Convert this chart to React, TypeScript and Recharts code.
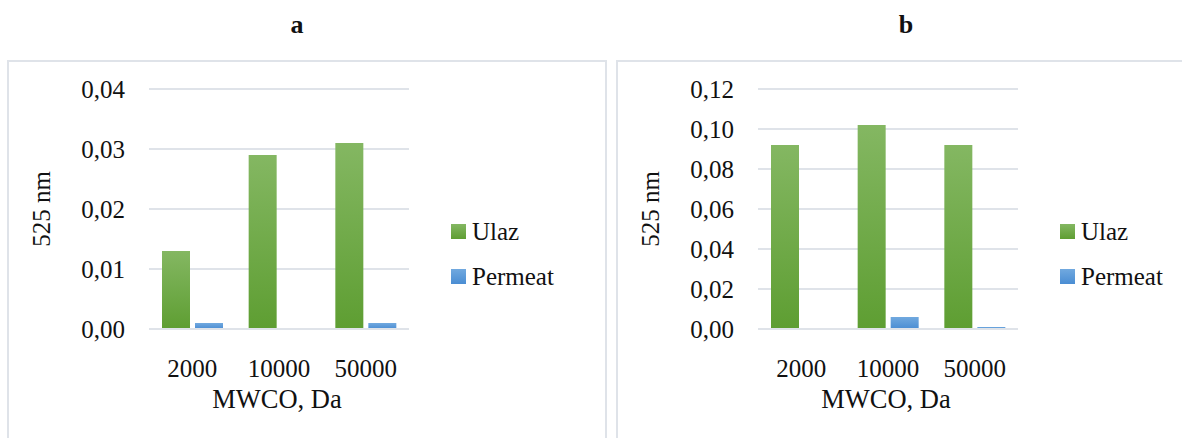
import { BarChart, Bar, XAxis, YAxis, CartesianGrid, Label } from 'recharts'

// MWCO kategorije i vrijednosti apsorbancije na 525 nm
const categories = ['2000', '10000', '50000']
const ulazA = [0.013, 0.029, 0.031]
const permeatA = [0.001, 0, 0.001]
const ulazB = [0.092, 0.102, 0.092]
const permeatB = [0, 0.006, 0.001]
const ticksA = [0, 0.01, 0.02, 0.03, 0.04]
const ticksB = [0, 0.02, 0.04, 0.06, 0.08, 0.1, 0.12]
const seriesNames = ['Ulaz', 'Permeat']

const FONT = "'Liberation Serif', 'Times New Roman', serif"
const GRID = '#dfe3e9'
const GREEN = ['#84b762', '#5e9e32']
const BLUE = ['#71a9df', '#4a8dd3']

const fmt = (v: number) => v.toFixed(2).replace('.', ',')

function LegendBox() {
  const grads = [GREEN, BLUE]
  return (
    <div
      style={{ position: 'absolute', left: 451, top: 209, fontFamily: FONT, fontSize: 25, color: '#111' }}
    >
      {seriesNames.map((name, i) => (
        <div key={name} style={{ display: 'flex', alignItems: 'center', height: 45 }}>
          <span
            style={{
              width: 15,
              height: 15,
              background: `linear-gradient(${grads[i][0]}, ${grads[i][1]})`,
              marginRight: 6,
            }}
          />
          <span>{name}</span>
        </div>
      ))}
    </div>
  )
}

function Panel({ title, ulaz, permeat, ticks, offset }: {
  title: string
  ulaz: number[]
  permeat: number[]
  ticks: number[]
  offset: number
}) {
  const data = categories.map((c, i) => ({ cat: c, ulaz: ulaz[i], permeat: permeat[i] }))
  const id = title
  return (
    <div style={{ position: 'absolute', left: offset, top: 0, width: 591, height: 438 }}>
      {/* okvir panela */}
      <div
        style={{
          position: 'absolute',
          left: 7,
          top: 60,
          width: 600,
          height: 400,
          border: `2px solid ${GRID}`,
          boxSizing: 'border-box',
        }}
      />
      <div
        style={{
          position: 'absolute',
          left: 0,
          width: 594,
          top: 10,
          textAlign: 'center',
          fontFamily: FONT,
          fontWeight: 700,
          fontSize: 26,
          color: '#111',
        }}
      >
        {title}
      </div>
      <div style={{ position: 'absolute', left: 0, top: 0 }}>
        <BarChart
          width={591}
          height={438}
          data={data}
          margin={{ top: 89, right: 182, bottom: 0, left: 0 }}
          barSize={28}
          barGap={5}
        >
          <defs>
            <linearGradient id={`g-${id}`} x1="0" y1="0" x2="0" y2="1">
              <stop offset="0%" stopColor={GREEN[0]} />
              <stop offset="100%" stopColor={GREEN[1]} />
            </linearGradient>
            <linearGradient id={`b-${id}`} x1="0" y1="0" x2="0" y2="1">
              <stop offset="0%" stopColor={BLUE[0]} />
              <stop offset="100%" stopColor={BLUE[1]} />
            </linearGradient>
          </defs>
          <CartesianGrid vertical={false} stroke={GRID} strokeWidth={2} />
          <XAxis
            dataKey="cat"
            height={109}
            tickSize={0}
            tickMargin={30}
            axisLine={{ stroke: GRID, strokeWidth: 2 }}
            tick={{ fontSize: 25, fill: '#111', fontFamily: FONT }}
          >
            <Label
              content={() => (
                <text x={277} y={408} textAnchor="middle" fontSize={26.5} fill="#111" fontFamily={FONT}>
                  MWCO, Da
                </text>
              )}
            />
          </XAxis>
          <YAxis
            width={149}
            domain={[ticks[0], ticks[ticks.length - 1]]}
            ticks={ticks}
            tickFormatter={fmt}
            tickSize={0}
            tickMargin={24}
            axisLine={false}
            tick={{ fontSize: 25, fill: '#111', fontFamily: FONT }}
          >
            <Label
              content={() => (
                <text
                  x={41}
                  y={209}
                  transform="rotate(-90 41 209)"
                  textAnchor="middle"
                  dominantBaseline="central"
                  fontSize={25}
                  fill="#111"
                  fontFamily={FONT}
                >
                  525 nm
                </text>
              )}
            />
          </YAxis>
          <Bar dataKey="ulaz" name={seriesNames[0]} fill={`url(#g-${id})`} isAnimationActive={false} />
          <Bar dataKey="permeat" name={seriesNames[1]} fill={`url(#b-${id})`} isAnimationActive={false} />
        </BarChart>
      </div>
      <LegendBox />
    </div>
  )
}

export default function App() {
  return (
    <div
      style={{
        position: 'absolute',
        left: 0,
        top: 0,
        width: 1182,
        height: 438,
        overflow: 'hidden',
        background: '#fff',
      }}
    >
      <Panel title="a" ulaz={ulazA} permeat={permeatA} ticks={ticksA} offset={0} />
      <Panel title="b" ulaz={ulazB} permeat={permeatB} ticks={ticksB} offset={609} />
    </div>
  )
}
